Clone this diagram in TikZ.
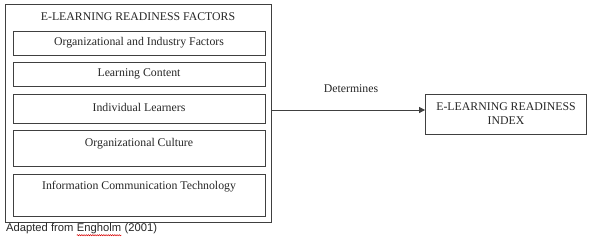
\documentclass[tikz,border=0pt]{standalone}
\usepackage{fontspec}
\setmainfont{Liberation Serif}
\newfontfamily\arialf{Liberation Sans}
\usetikzlibrary{arrows.meta,decorations.pathmorphing}
\tikzset{
  frame/.style={draw=black!75, line width=0.8pt, rectangle, inner sep=0pt},
  lbl/.style={font=\fontsize{11.8}{13}\selectfont, inner sep=0pt, text=black!85},
  conn/.style={draw=black!75, line width=0.8pt, -{Triangle[length=6pt,width=6pt]}},
  srcf/.style={inner sep=0pt, font=\arialf\fontsize{11.2}{13}\selectfont, text=black!85, text height=8pt, text depth=2.4pt}
}
\begin{document}
\begin{tikzpicture}[x=1pt,y=-1pt]
\useasboundingbox (0,0) rectangle (600,244);
\node[frame, minimum width=266pt, minimum height=218pt] (outer) at (138,113) {};
\node[lbl] (title) at (138,17) {E-LEARNING READINESS FACTORS};
\node[frame, minimum width=252pt, minimum height=24pt] (b1) at (139,43) {};
\node[frame, minimum width=252pt, minimum height=23.5pt] (b2) at (139,74.3) {};
\node[frame, minimum width=252pt, minimum height=29pt] (b3) at (139,108.8) {};
\node[frame, minimum width=252pt, minimum height=36pt] (b4) at (139,148.7) {};
\node[frame, minimum width=252pt, minimum height=42.7pt] (b5) at (139,195.3) {};
\node[lbl] (t1) at (139,43) {Organizational and Industry Factors};
\node[lbl] (t2) at (139,74.3) {Learning Content};
\node[lbl] (t3) at (139,107) {Individual Learners};
\node[lbl] (t4) at (139,143.5) {Organizational Culture};
\node[lbl] (t5) at (139,187) {Information Communication Technology};
\node[frame, minimum width=161pt, minimum height=40pt, lbl, align=center] (idx) at (506,114) {E-LEARNING READINESS\\[1pt]INDEX};
\coordinate (start) at (outer.east |- 0,110);
\draw[conn] (start) -- (idx.west |- start);
\node[lbl] (det) at (351,89) {Determines};
\node[srcf, anchor=west] (src1) at (6,229) {Adapted from\vphantom{g}};
\node[srcf, anchor=west] (eng) at ([xshift=3.1pt]src1.east) {Engholm};
\node[srcf, anchor=west] (yr) at ([xshift=3.1pt]eng.east) {(2001)};
\draw[red!85!black, line width=0.5pt, decorate, decoration={snake, amplitude=0.6pt, segment length=2.2pt}] ([yshift=-0.8pt]eng.south west) -- ([yshift=-0.8pt]eng.south east);
\end{tikzpicture}
\end{document}
